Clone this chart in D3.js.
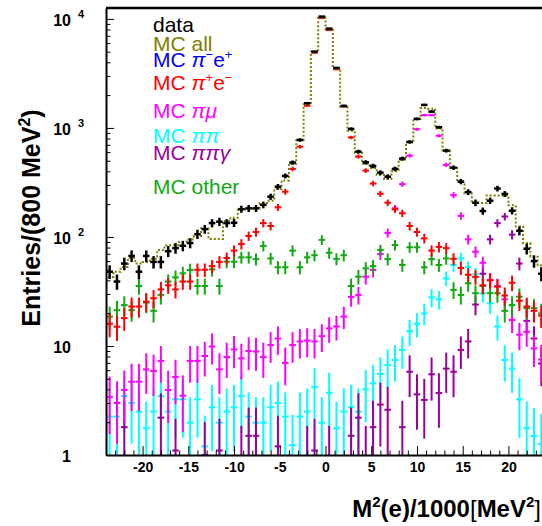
<!DOCTYPE html>
<html>
<head>
<meta charset="utf-8">
<script src="https://cdn.jsdelivr.net/npm/d3@7"></script>
<style>
  body { margin: 0; background: #fff; }
  text { font-family: "Liberation Sans", Arial, Helvetica, sans-serif; }
</style>
</head>
<body>
<svg id="chart" width="542" height="526"></svg>
<script>
// 60 bins of 0.8 (= 800 MeV^2 / 1000) from -24 to 24
const binLo = -24, binW = 0.8, nBins = 60;
const binCenters = d3.range(nBins).map(i => binLo + binW * (i + 0.5));

const xTicks = [-20, -15, -10, -5, 0, 5, 10, 15, 20];
const yTicks = [1, 10, 100, 1000, 10000];

// entries per bin
const dataPts = [48, 39, 57, 67, 48, 67, 59, 59, 74, 79, 83, 88, 106, 118, 134, 138, 134, 135, 180, 183,
  183, 197, 234, 289, 363, 481, 776, 1686, 5012, 10500, 8150, 3550, 1592, 979, 606, 484, 448, 389, 357, 421,
  523, 744, 1210, 1625, 1412, 1015, 619, 432, 322, 258, 206, 173, 215, 278, 248, 174, 114, 78, 60, 46];

const mcAll = [43, 48, 53, 64, 57, 59, 63, 76, 84, 84, 90, 95, 102, 120, 96, 96, 140, 150, 178, 180,
  182, 205, 215, 275, 330, 470, 770, 1650, 5000, 10300, 8000, 3500, 1560, 940, 590, 470, 430, 370, 340, 400,
  510, 740, 1210, 1520, 1500, 990, 620, 430, 320, 250, 205, 205, 240, 240, 240, 195, 125, 88, 66, 55];

const mcPiMinusEPlus = []; // nothing visible in the plot

const mcPiPlusEMinus = [16, 15, 18, 23, 23, 25.5, 27.4, 33, 36, 33, 39, 39, 50, 50, 54, 59, 64, 75, 86, 102,
  111, 134, 126, 187, 260, 421, 673, 1600, 4900, 10200, 7900, 3450, 1570, 818, 546, 406, 309, 249, 206, 179,
  165, 126, 111, 97, 75, 81, 79, 63, 52, 45, 43, 36, 40, 35, 29, 38, 26, 23, 21, 19];

const mcPiMu = [3.4, 3.0, 3.95, 4.7, 4.7, 6.1, 5.9, 7.3, 3.95, 5.2, 3.5, 7.3, 7.3, 8.1, 9.9, 6.1, 7.9, 9.3, 7.7, 9.0,
  8.9, 7.9, 10.2, 11.7, 7.0, 10.2, 11, 11.2, 11, 12.3, 14.5, 15.1, 18.6, 28.2, 29.4, 43.2, 49.8, 69.6, 109, 183,
  305, 557, 973, 1310, 1310, 847, 458, 242, 156, 95, 73.2, 58, 40.3, 35.5, 26.8, 17.3, 12.7, 13.5, 9.5, 7.5];

const mcPiPi = [2.25, 2.25, 3.47, 3.0, 2.5, 1.76, 2.5, 3.47, 2.5, 3.24, 3.24, 1.98, 3.24, 1.2, 2.74, 1.98, 2.5, 2.74, 3.47, 2.25,
  1.98, 1.98, 2.74, 3.0, 2.25, 1.23, 2.25, 2.5, 4.2, 1.98, 3.72, 1.76, 2.5, 2.74, 2.5, 4.0, 4.54, 5.53, 6.7, 7.44,
  9.2, 13.7, 16, 19.9, 27.9, 26.8, 41.7, 55.3, 63.6, 52.7, 45.5, 30.5, 24.6, 15.1, 7.44, 6.2, 3.24, 1.76, 1.49, 1.26];

const mcPiPiGamma = [0, 0, 1.8, 0, 0, 0, 0, 2.2, 0, 1.1, 0, 0, 0, 1.0, 0, 1.1, 0, 0, 0.9, 1.5,
  1.5, 0, 0, 1.2, 0, 0, 0, 0.9, 1.1, 0, 0.9, 0, 0, 1.5, 2.2, 0.9, 1.8, 2.9, 2.6, 0,
  1.8, 5.8, 3.6, 3.2, 5.5, 3.7, 6.2, 5.8, 9.2, 11, 24, 46, 95, 134, 154, 105, 57, 17, 11.7, 6.9];

const mcOther = [18.6, 21.3, 23.7, 21.3, 35.5, 25, 21, 29.4, 39, 42.6, 46.4, 49.8, 35.5, 35.5, 50.4, 35.5, 59.3, 59.3, 65, 65,
  62.6, 82.7, 63.6, 52.7, 52.7, 74.9, 52.7, 65, 68, 94, 71.6, 62.9, 68, 35.5, 43.2, 51.5, 54, 76, 62.6, 84.3,
  55.3, 80.4, 80.4, 52.7, 62.6, 55.3, 63.6, 32.7, 29.4, 37.6, 30.5, 35.5, 30.5, 30.5, 21, 23.7, 28.3, 22.2, 22.2, 19.9];

const colors = {
  data: "#000000", all: "#808000", pime: "#0000ff", pepi: "#ff0000",
  pimu: "#ff00ff", pipi: "#00ffff", pipig: "#990099", other: "#11a811"
};

const svg = d3.select("#chart");
const plotL = 106, plotR = 545, plotT = 8, plotB = 455;

const x = d3.scaleLinear().domain([-24, 24]).range([plotL, plotR]);
const y = d3.scaleLog().domain([1, Math.pow(10, 4.1)]).range([plotB, plotT]);

svg.append("defs").append("clipPath").attr("id", "plotClip")
  .append("rect").attr("x", plotL).attr("y", plotT).attr("width", plotR - plotL).attr("height", plotB - plotT);

const plot = svg.append("g").attr("clip-path", "url(#plotClip)");

function drawSeries(vals, color, sw) {
  const pts = vals.map((v, i) => ({ c: binCenters[i], v })).filter(d => d.v > 0);
  const gg = plot.append("g").attr("stroke", color).attr("stroke-width", sw);
  gg.selectAll(".ev").data(pts).join("line").attr("class", "ev")
    .attr("x1", d => x(d.c)).attr("x2", d => x(d.c))
    .attr("y1", d => y(d.v + Math.sqrt(d.v)))
    .attr("y2", d => y(Math.max(d.v - Math.sqrt(d.v), 0.5)));
  gg.selectAll(".eh").data(pts).join("line").attr("class", "eh")
    .attr("x1", d => x(d.c - 0.36)).attr("x2", d => x(d.c + 0.36))
    .attr("y1", d => y(d.v)).attr("y2", d => y(d.v));
}

drawSeries(mcPiPi, colors.pipi, 2);
drawSeries(mcPiPiGamma, colors.pipig, 2);
drawSeries(mcPiMu, colors.pimu, 2);
drawSeries(mcOther, colors.other, 2);
drawSeries(mcPiPlusEMinus, colors.pepi, 2);
drawSeries(mcPiMinusEPlus, colors.pime, 2);

// MC all as dotted histogram outline
const stepPts = [[binLo, 1]]
  .concat(mcAll.map((v, i) => [binLo + binW * i, v]))
  .concat([[binLo + binW * nBins, mcAll[nBins - 1]], [binLo + binW * nBins, 1]]);
const stepLine = d3.line().x(d => x(d[0])).y(d => y(d[1])).curve(d3.curveStepAfter);
plot.append("path").attr("d", stepLine(stepPts))
  .attr("fill", "none").attr("stroke", colors.all).attr("stroke-width", 2)
  .attr("stroke-dasharray", "2,2");

drawSeries(dataPts, colors.data, 2.5);

// Axes (ticks pointing inwards)
const xMinor = d3.range(-24, 25, 1).filter(v => v % 5 !== 0);
svg.append("g").attr("transform", `translate(0,${plotB})`)
  .call(d3.axisBottom(x).tickValues(xMinor).tickSize(-4.5).tickSizeOuter(0).tickFormat(""))
  .call(g => g.select(".domain").remove());
const xAx = svg.append("g").attr("transform", `translate(0,${plotB})`)
  .call(d3.axisBottom(x).tickValues(xTicks).tickSize(-9).tickSizeOuter(0).tickPadding(7)
    .tickFormat(d => String(d)));
xAx.select(".domain").attr("stroke-width", 2);
xAx.selectAll("text").attr("font-size", "14px").attr("font-weight", "bold")
  .attr("fill", "#000").attr("font-family", "Liberation Sans, Arial, sans-serif");

const yMinor = [];
yTicks.forEach(t => d3.range(2, 10).forEach(k => { if (t * k < y.domain()[1]) yMinor.push(t * k); }));
svg.append("g").attr("transform", `translate(${plotL},0)`)
  .call(d3.axisLeft(y).tickValues(yMinor).tickSize(-4.5).tickSizeOuter(0).tickFormat(""))
  .call(g => g.select(".domain").remove());
const yAx = svg.append("g").attr("transform", `translate(${plotL},0)`)
  .call(d3.axisLeft(y).tickValues(yTicks).tickSize(-8).tickSizeOuter(0).tickFormat(""));
yAx.select(".domain").attr("stroke-width", 2);

// top frame line
svg.append("line").attr("x1", plotL).attr("x2", plotR).attr("y1", plotT).attr("y2", plotT)
  .attr("stroke", "#000").attr("stroke-width", 2.5);

// y tick labels with exponents
yTicks.forEach(t => {
  const e = Math.round(Math.log10(t));
  svg.append("text").attr("x", 71).attr("y", y(t) + 7)
    .attr("text-anchor", "end").attr("font-size", "16px").attr("font-weight", "bold")
    .text(e < 2 ? String(t) : "10");
  if (e >= 2) {
    svg.append("text").attr("x", 78).attr("y", y(t) - 1)
      .attr("font-size", "11px").attr("font-weight", "bold").text(String(e));
  }
});

// axis titles
const yTitle = svg.append("text")
  .attr("transform", `translate(40,218) rotate(-90)`)
  .attr("text-anchor", "middle").attr("font-size", "25px").attr("font-weight", "bold");
yTitle.append("tspan").text("Entries/(800 MeV");
yTitle.append("tspan").attr("dy", -10).attr("font-size", "16px").text("2");
yTitle.append("tspan").attr("dy", 10).text(")");

const xTitle = svg.append("text").attr("x", 541).attr("y", 517)
  .attr("text-anchor", "end").attr("font-size", "24px").attr("font-weight", "bold");
xTitle.append("tspan").text("M");
xTitle.append("tspan").attr("dy", -10).attr("font-size", "15px").text("2");
xTitle.append("tspan").attr("dy", 10).text("(e)/1000");
xTitle.append("tspan").attr("font-weight", "normal").text("[");
xTitle.append("tspan").text("MeV");
xTitle.append("tspan").attr("dy", -10).attr("font-size", "15px").text("2");
xTitle.append("tspan").attr("dy", 10).attr("font-weight", "normal").text("]");

// legend
const legendItems = [
  { color: colors.data, parts: [["data"]] },
  { color: colors.all, parts: [["MC all"]] },
  { color: colors.pime, parts: [["MC "], ["π", "i"], ["−", "sup"], ["e"], ["+", "sup"]] },
  { color: colors.pepi, parts: [["MC "], ["π", "i"], ["+", "sup"], ["e"], ["−", "sup"]] },
  { color: colors.pimu, parts: [["MC "], ["πμ", "i"]] },
  { color: colors.pipi, parts: [["MC "], ["ππ", "i"]] },
  { color: colors.pipig, parts: [["MC "], ["ππγ", "i"]] },
  { color: colors.other, parts: [["MC other"]] }
];
const legendBase = [32, 51, 67, 90, 118, 143, 160, 194];

legendItems.forEach((item, i) => {
  const t = svg.append("text").attr("x", 153).attr("y", legendBase[i])
    .attr("font-size", "21px").attr("fill", item.color);
  let shift = 0;
  item.parts.forEach(([s, kind]) => {
    const target = kind === "sup" ? -8 : 0;
    const sp = t.append("tspan").attr("dy", target - shift).text(s);
    shift = target;
    if (kind === "sup") sp.attr("font-size", "13px");
    if (kind === "i") sp.attr("font-style", "italic");
  });
});
</script>
</body>
</html>
